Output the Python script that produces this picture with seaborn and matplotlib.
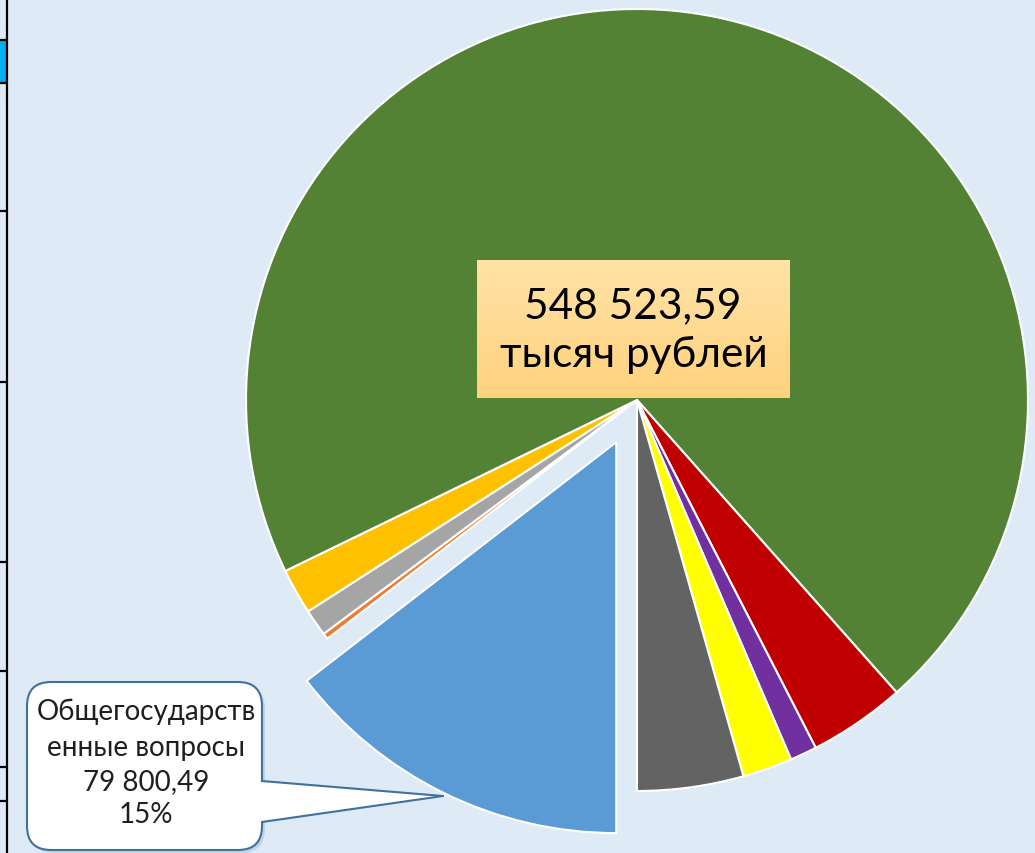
import numpy as np
import matplotlib
matplotlib.use("Agg")
import matplotlib.pyplot as plt
from matplotlib.patches import FancyBboxPatch, Polygon, Rectangle
from matplotlib.colors import LinearSegmentedColormap
import seaborn as sns

# ---------------- data (clockwise from 6 o'clock) ----------------
categories = ["Общегосударственные вопросы", "Раздел 2", "Раздел 3", "Раздел 4",
              "Раздел 5", "Раздел 6", "Раздел 7", "Раздел 8", "Раздел 9"]
values = [79800.49, 1371.0, 6095.0, 10361.0, 387512.10, 21940.0, 6095.0, 11275.0, 24074.0]
colors = ["#5B9BD5", "#ED7D31", "#A5A5A5", "#FFC000", "#548235",
          "#C00000", "#7030A0", "#FFFF00", "#636363"]
explode_frac = [0.12, 0, 0, 0, 0, 0, 0, 0, 0]
total_unit = "тысяч рублей"
table_rows_y = [41, 84, 212, 383, 563, 672, 768, 802]

# ---------------- style ----------------
sns.set_theme(style="white")
plt.rcParams["font.family"] = ["Lato", "DejaVu Sans"]
BG = "#DEEBF7"
W, H = 1035, 854
R = 391


def Y(y):
    return H - y


def fmt(v):
    s = f"{v:,.2f}"
    return s.replace(",", " ").replace(".", ",")


fig = plt.figure(figsize=(W / 100, H / 100), dpi=100)
fig.patch.set_facecolor(BG)
ax = fig.add_axes([0, 0, 1, 1])
ax.set_facecolor(BG)

ax.pie(values, colors=colors, startangle=-90, counterclock=False,
       radius=R, center=(637, Y(401)), explode=[e * R for e in explode_frac],
       wedgeprops=dict(edgecolor="white", linewidth=1.5))

ax.set_xlim(0, W)
ax.set_ylim(0, H)
ax.set_aspect("auto")
ax.axis("off")

# ---------------- total box in centre ----------------
cmap = LinearSegmentedColormap.from_list("box", ["#FFD27E", "#FFE2A6"])
grad = np.linspace(0, 1, 100).reshape(-1, 1)
ax.imshow(grad, cmap=cmap, extent=[477, 790, Y(399), Y(261)], origin="lower",
          aspect="auto", zorder=3)
total = sum(values)
ax.text(633, Y(318), fmt(total), ha="center", va="baseline", fontsize=30.5,
        color="black", zorder=4)
ax.text(634, Y(367), total_unit, ha="center", va="baseline", fontsize=30.5,
        color="black", zorder=4)

# ---------------- callout ----------------
edge = "#41719C"
shadow = FancyBboxPatch((30, Y(854)), 235, 168, boxstyle="round,pad=0,rounding_size=24",
                        fc="#9FB6CF", ec="none", alpha=0.45, zorder=4.8)
ax.add_patch(shadow)
box = FancyBboxPatch((27, Y(851)), 235, 168, boxstyle="round,pad=0,rounding_size=24",
                     fc="white", ec=edge, lw=1.5, zorder=5)
ax.add_patch(box)
ax.add_patch(Polygon([(255, Y(782.5)), (443, Y(797)), (255, Y(823))],
                     closed=True, fc="white", ec="none", zorder=6))
ax.plot([262, 443], [Y(782), Y(797)], color=edge, lw=1.5, zorder=7,
        solid_capstyle="round")
ax.plot([262, 443], [Y(823), Y(797)], color=edge, lw=1.5, zorder=7,
        solid_capstyle="round")

name = categories[0]
lines = [name[:14], name[14:], fmt(values[0]), f"{values[0] / total * 100:.0f}%"]
baselines = [720, 756, 790, 823]
for txt, yb in zip(lines, baselines):
    ax.text(146, Y(yb), txt, ha="center", va="baseline", fontsize=20,
            color="#1F1F1F", zorder=8)

# ---------------- table fragment on the left ----------------
ax.add_patch(Rectangle((0, Y(84)), 7.3, 43, fc="#00B0F0", ec="none", zorder=2))
ax.plot([7.3, 7.3], [0, H], color="black", lw=1.6, zorder=3)
for yy in table_rows_y:
    ax.plot([0, 7.3], [Y(yy), Y(yy)], color="black", lw=1.6, zorder=3)

fig.savefig("out.png", dpi=100, facecolor=BG)
